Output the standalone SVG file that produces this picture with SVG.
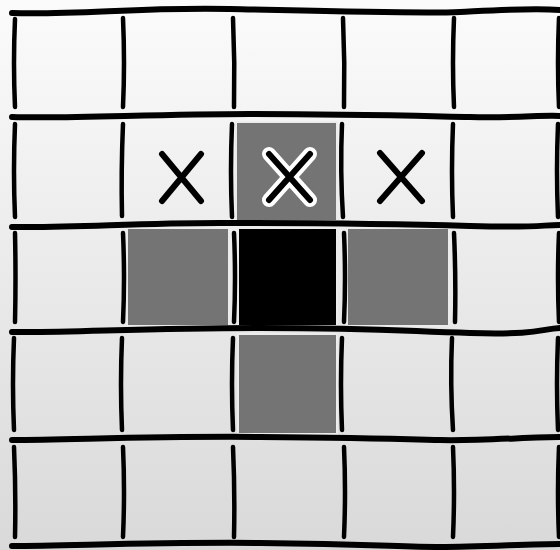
<svg xmlns="http://www.w3.org/2000/svg" width="560" height="550" viewBox="0 0 560 550">
  <defs>
    <linearGradient id="bg" x1="0" y1="0" x2="0" y2="1">
      <stop offset="0" stop-color="#fbfbfb"/>
      <stop offset="1" stop-color="#d9d9d9"/>
    </linearGradient>
  </defs>
  <style>
    .h { fill: none; stroke: #000; stroke-width: 6; stroke-linecap: round; }
    .v { fill: none; stroke: #000; stroke-width: 4.5; stroke-linecap: round; }
    .gray { fill: #747474; stroke: #ececec; stroke-width: 2; }
    .black { fill: #000; stroke: #ececec; stroke-width: 2; }
    .x { fill: none; stroke: #000; stroke-width: 6; stroke-linecap: round; }
    .xhalo { fill: none; stroke: #fff; stroke-width: 14; stroke-linecap: round; }
  </style>
  <rect x="0" y="0" width="560" height="550" fill="url(#bg)"/>

  <g id="cells">
    <g id="cell-r1c3"><rect class="gray" x="236" y="122" width="101" height="99"/></g>
    <g id="cell-r2c2"><rect class="gray" x="127" y="228" width="102" height="98"/></g>
    <g id="cell-r2c3"><rect class="black" x="238" y="228" width="99" height="98"/></g>
    <g id="cell-r2c4"><rect class="gray" x="347" y="228" width="102" height="98"/></g>
    <g id="cell-r3c3"><rect class="gray" x="238" y="334" width="99" height="100"/></g>
  </g>

  <g id="grid">
    <path class="h" d="M12,13 C80,15 140,7 230,9 S420,14 460,12 S530,8 560,10"/>
    <path class="h" d="M12,117 C70,119 150,114 250,114 S420,116 470,117 S540,115 560,116"/>
    <path class="h" d="M12,227 C80,228 130,223 220,223 S400,224 470,226 S540,225 560,225"/>
    <path class="h" d="M12,332 C70,333 140,328 260,328 S400,331 470,333 S540,329 560,328"/>
    <path class="h" d="M12,440 C70,440 150,436 260,437 S400,439 440,440 S530,437 560,437"/>
    <path class="h" d="M12,546 C70,546 150,542 260,543 S400,547 440,547 S530,544 560,544"/>

    <path class="v" d="M15,19 Q13,63 15,107"/>
    <path class="v" d="M123,18 Q125,63 123,107"/>
    <path class="v" d="M233,18 Q235,63 234,107"/>
    <path class="v" d="M343,18 Q345,63 344,107"/>
    <path class="v" d="M454,18 Q452,63 454,107"/>
    <path class="v" d="M559,18 Q557,63 559,107"/>

    <path class="v" d="M15,124 Q13,171 15,217"/>
    <path class="v" d="M123,124 Q121,171 122,216"/>
    <path class="v" d="M232,124 Q230,171 232,217"/>
    <path class="v" d="M342,124 Q340,171 343,217"/>
    <path class="v" d="M453,124 Q451,171 453,217"/>
    <path class="v" d="M558,124 Q556,171 558,217"/>

    <path class="v" d="M15,233 Q16,278 15,322"/>
    <path class="v" d="M123,233 Q125,278 123,322"/>
    <path class="v" d="M234,233 Q236,278 234,322"/>
    <path class="v" d="M344,233 Q346,278 344,322"/>
    <path class="v" d="M454,233 Q456,278 455,322"/>
    <path class="v" d="M559,233 Q557,278 559,322"/>

    <path class="v" d="M14,338 Q12,384 14,430"/>
    <path class="v" d="M122,338 Q120,384 122,430"/>
    <path class="v" d="M233,338 Q231,384 233,430"/>
    <path class="v" d="M342,338 Q340,384 342,430"/>
    <path class="v" d="M452,338 Q450,384 453,430"/>
    <path class="v" d="M558,338 Q556,384 558,430"/>

    <path class="v" d="M14,447 Q16,492 15,537"/>
    <path class="v" d="M123,447 Q125,492 123,537"/>
    <path class="v" d="M233,447 Q235,492 234,537"/>
    <path class="v" d="M344,447 Q346,492 344,537"/>
    <path class="v" d="M453,447 Q455,492 453,537"/>
    <path class="v" d="M559,447 Q557,492 559,537"/>
  </g>

  <g id="marks">
    <g id="x-r1c3">
      <path class="xhalo" d="M269,154 L310,200 M310,154 L269,200"/>
      <path class="x" d="M269,154 L310,200 M310,154 L269,200"/>
    </g>
    <g id="x-r1c2">
      <path class="x" d="M162,154 L201,201 M201,154 L162,201"/>
    </g>
    <g id="x-r1c4">
      <path class="x" d="M380,153 L422,201 M422,153 L380,201"/>
    </g>
  </g>
</svg>
